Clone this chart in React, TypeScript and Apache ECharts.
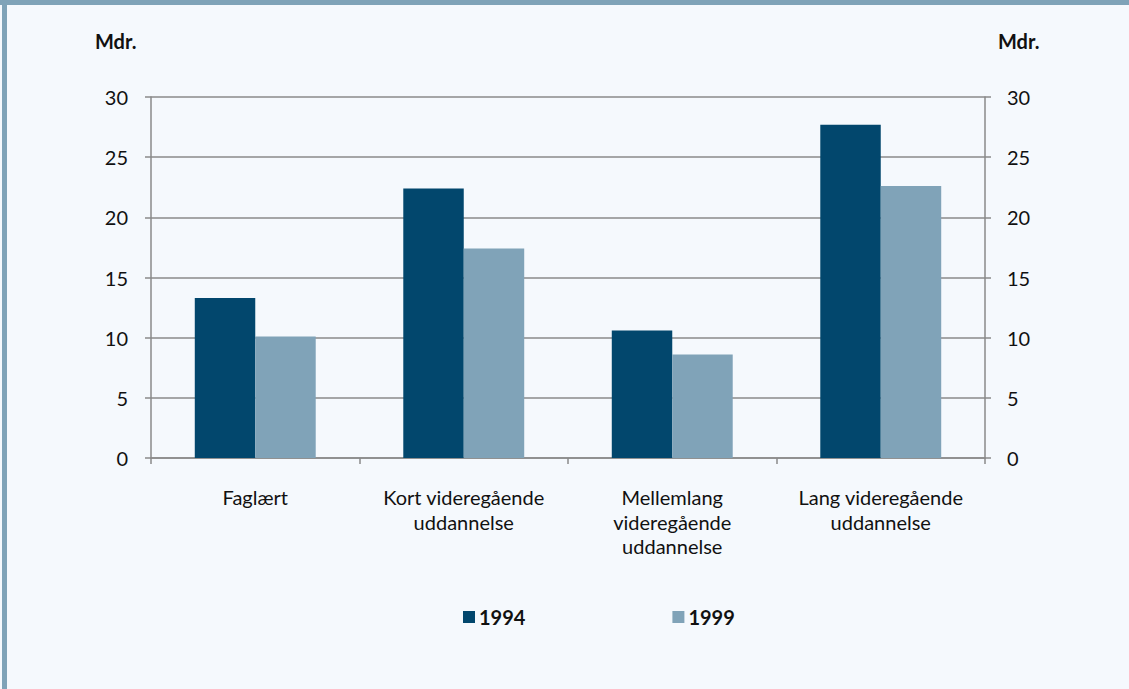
import React, { useEffect, useRef } from "react";
import * as echarts from "echarts";

const categories = [
  "Faglært",
  "Kort videregående\nuddannelse",
  "Mellemlang\nvideregående\nuddannelse",
  "Lang videregående\nuddannelse",
];
const series1994 = [13.3, 22.4, 10.6, 27.7];
const series1999 = [10.1, 17.4, 8.6, 22.6];
const yTicks = { min: 0, max: 30, interval: 5 };

const FONT = "Lato";
const AXIS_COLOR = "#8a8a8a";

export default function App() {
  const ref = useRef<HTMLDivElement>(null);
  useEffect(() => {
    const chart = echarts.init(ref.current!, null, { renderer: "svg" });
    const yAxisCommon = {
      type: "value",
      min: yTicks.min,
      max: yTicks.max,
      interval: yTicks.interval,
      axisLine: { show: true, lineStyle: { color: AXIS_COLOR, width: 1.5 } },
      axisTick: { show: true, length: 6, lineStyle: { color: AXIS_COLOR, width: 1.5 } },
    };
    chart.setOption({
      animation: false,
      backgroundColor: "#f5f9fd",
      graphic: [
        { type: "rect", shape: { x: 0, y: 0, width: 1129, height: 5 }, style: { fill: "#7fa3b8" } },
        { type: "rect", shape: { x: 2, y: 0, width: 5, height: 689 }, style: { fill: "#7fa3b8" } },
        { type: "text", left: 95, top: 31, style: { text: "Mdr.", fontFamily: FONT, fontSize: 20, fontWeight: "bold", fill: "#111" } },
        { type: "text", left: 998, top: 31, style: { text: "Mdr.", fontFamily: FONT, fontSize: 20, fontWeight: "bold", fill: "#111" } },
      ],
      legend: {
        top: 602,
        left: 458,
        itemWidth: 12,
        itemHeight: 12,
        itemGap: 147,
        icon: "rect",
        textStyle: { fontFamily: FONT, fontSize: 20, fontWeight: "bold", color: "#111", padding: [0, 0, 0, -1] },
        data: ["1994", "1999"],
      },
      grid: { left: 151, right: 144, top: 97, bottom: 231, containLabel: false },
      xAxis: {
        type: "category",
        data: categories,
        axisLine: { show: true, lineStyle: { color: AXIS_COLOR, width: 1.5 } },
        axisTick: { show: true, length: 6, lineStyle: { color: AXIS_COLOR, width: 1.5 } },
        axisLabel: { color: "#111", fontFamily: FONT, fontSize: 20, lineHeight: 24.5, margin: 27, interval: 0 },
      },
      yAxis: [
        {
          ...yAxisCommon,
          position: "left",
          axisLabel: { color: "#111", fontFamily: FONT, fontSize: 20, margin: 23 },
          splitLine: { show: true, lineStyle: { color: AXIS_COLOR, width: 1.5 } },
        },
        {
          ...yAxisCommon,
          position: "right",
          axisLabel: { color: "#111", fontFamily: FONT, fontSize: 20, margin: 22 },
          splitLine: { show: false },
        },
      ],
      series: [
        {
          name: "1994",
          type: "bar",
          data: series1994,
          barGap: "0%",
          barCategoryGap: "42%",
          itemStyle: { color: "#02476d" },
        },
        {
          name: "1999",
          type: "bar",
          data: series1999,
          itemStyle: { color: "#80a3b8" },
        },
      ],
    });
    return () => chart.dispose();
  }, []);
  return (
    <div
      ref={ref}
      style={{ position: "absolute", left: 0, top: 0, width: 1129, height: 689 }}
    />
  );
}
